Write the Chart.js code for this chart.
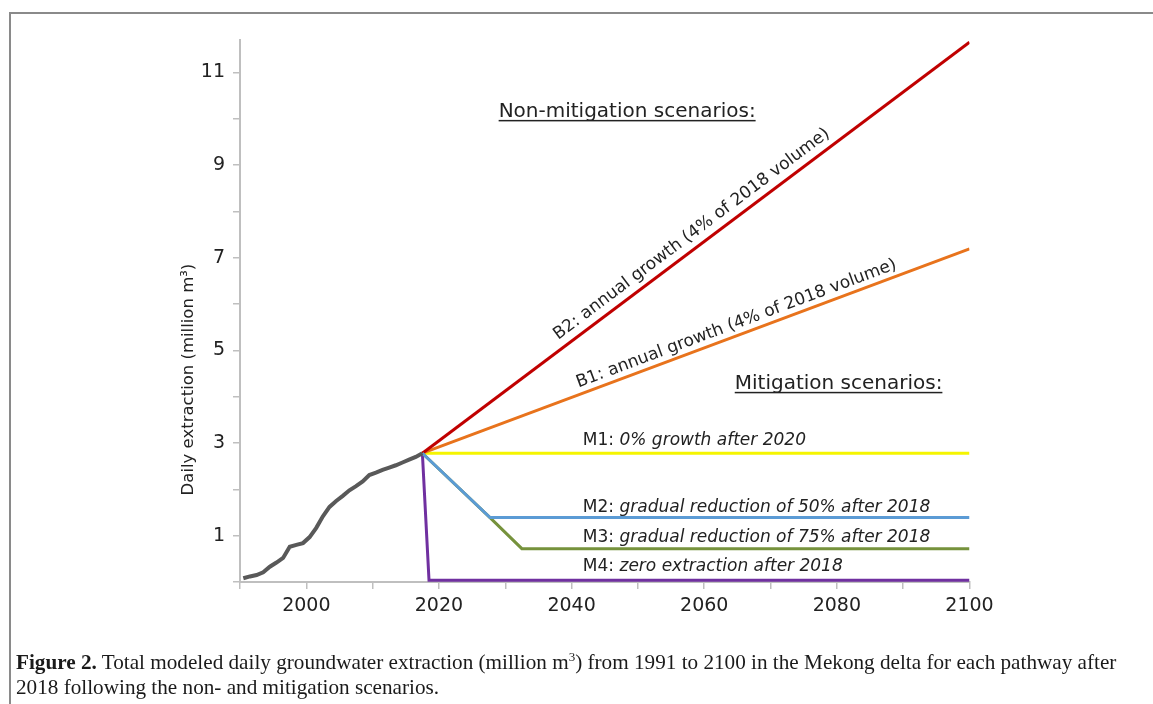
<!DOCTYPE html>
<html>
<head>
<meta charset="utf-8">
<script src="https://cdn.jsdelivr.net/npm/chart.js@4.4.0/dist/chart.umd.min.js"></script>
<style>
  html, body { margin: 0; padding: 0; background: #fff; }
  body { width: 1153px; height: 704px; position: relative; overflow: hidden; }
  #frame { position: absolute; left: 9px; top: 12px; width: 1300px; height: 900px;
           border-left: 2px solid #8a8a8a; border-top: 2px solid #8a8a8a; }
  #chart { position: absolute; left: 0; top: 0; }
  #caption { position: absolute; left: 16px; top: 650px; font-family: "Liberation Serif", serif;
             font-size: 21.2px; line-height: 25px; color: #1a1a1a; white-space: nowrap; }
  #caption sup { font-size: 13px; line-height: 0; }
</style>
</head>
<body>
<div id="frame"></div>
<canvas id="chart" width="1153" height="704"></canvas>
<div id="caption"><b>Figure 2.</b> Total modeled daily groundwater extraction (million m<sup>3</sup>) from 1991 to 2100 in the Mekong delta for each pathway after<br>2018 following the non- and mitigation scenarios.</div>

<script>
// historical extraction (points sit half a year left of the year ticks)
const histYears = [1990.5, 1991.5, 1992.5, 1993.5, 1994.5, 1995.5, 1996.5, 1997.5, 1998.5, 1999.5,
  2000.5, 2001.5, 2002.5, 2003.5, 2004.5, 2005.5, 2006.5, 2007.5, 2008.5, 2009.5,
  2010.5, 2011.5, 2012.5, 2013.5, 2014.5, 2015.5, 2016.5, 2017.5];
const histValues = [0.08, 0.12, 0.15, 0.21, 0.33, 0.42, 0.52, 0.76, 0.80, 0.84,
  0.97, 1.17, 1.42, 1.62, 1.75, 1.86, 1.98, 2.07, 2.17, 2.31,
  2.36, 2.42, 2.47, 2.52, 2.58, 2.64, 2.70, 2.78];

// scenarios after 2018
const b2Years = [2017.5, 2100];
const b2Values = [2.78, 11.65];
const b1Years = [2017.5, 2100];
const b1Values = [2.78, 7.19];
const m1Years = [2017.5, 2100];
const m1Values = [2.78, 2.78];
const m2Years = [2017.5, 2027.7, 2100];
const m2Values = [2.78, 1.39, 1.39];
const m3Years = [2017.5, 2027.7, 2032.5, 2100];
const m3Values = [2.78, 1.39, 0.72, 0.72];
const m4Years = [2017.5, 2018.5, 2100];
const m4Values = [2.78, 0.04, 0.04];

const xTickLabels = [2000, 2020, 2040, 2060, 2080, 2100];
const yTickLabels = [1, 3, 5, 7, 9, 11];

const FONT = '"DejaVu Sans", Verdana, sans-serif';
const TEXT = '#222222';
const AXIS = '#bfbfbf';

function pts(xs, ys) {
  return xs.map((x, i) => ({ x: x, y: ys[i] }));
}

function series(label, xs, ys, color, width) {
  return {
    label: label,
    data: pts(xs, ys),
    borderColor: color,
    backgroundColor: color,
    borderWidth: width || 3,
    pointRadius: 0,
    tension: 0,
    fill: false
  };
}

// text along a scenario line
function lineLabel(ctx, x, y, xs, ys, startYear, offset, text) {
  const x0 = x.getPixelForValue(xs[0]), y0 = y.getPixelForValue(ys[0]);
  const x1 = x.getPixelForValue(xs[xs.length - 1]), y1 = y.getPixelForValue(ys[ys.length - 1]);
  const angle = Math.atan2(y1 - y0, x1 - x0);
  const t = (startYear - xs[0]) / (xs[xs.length - 1] - xs[0]);
  const v = ys[0] + t * (ys[ys.length - 1] - ys[0]);
  ctx.save();
  ctx.translate(x.getPixelForValue(startYear), y.getPixelForValue(v));
  ctx.rotate(angle);
  ctx.textAlign = 'left';
  ctx.textBaseline = 'alphabetic';
  ctx.fillText(text, 0, -offset);
  ctx.restore();
}

function heading(ctx, px, py, text) {
  ctx.fillText(text, px, py);
  const w = ctx.measureText(text).width;
  ctx.fillRect(px, py + 3, w, 1.5);
}

function mixedLabel(ctx, px, py, head, rest) {
  ctx.font = '17px ' + FONT;
  ctx.fillText(head, px, py);
  const w = ctx.measureText(head).width;
  ctx.font = 'italic 17px ' + FONT;
  ctx.fillText(rest, px + w, py);
}

const annotate = {
  id: 'annotate',
  afterDatasetsDraw(chart) {
    const { ctx, scales: { x, y } } = chart;
    ctx.save();
    ctx.fillStyle = TEXT;
    ctx.textAlign = 'left';
    ctx.textBaseline = 'alphabetic';

    ctx.font = '20px ' + FONT;
    heading(ctx, x.getPixelForValue(2029.0), y.getPixelForValue(10.04), 'Non-mitigation scenarios:');
    heading(ctx, x.getPixelForValue(2064.6), y.getPixelForValue(4.17), 'Mitigation scenarios:');

    ctx.font = '17px ' + FONT;
    lineLabel(ctx, x, y, b2Years, b2Values, 2038.8, 9, 'B2: annual growth (4% of 2018 volume)');
    lineLabel(ctx, x, y, b1Years, b1Values, 2041.4, 7, 'B1: annual growth (4% of 2018 volume)');

    const mx = x.getPixelForValue(2041.7);
    mixedLabel(ctx, mx, y.getPixelForValue(2.96), 'M1: ', '0% growth after 2020');
    mixedLabel(ctx, mx, y.getPixelForValue(1.52), 'M2: ', 'gradual reduction of 50% after 2018');
    mixedLabel(ctx, mx, y.getPixelForValue(0.86), 'M3: ', 'gradual reduction of 75% after 2018');
    mixedLabel(ctx, mx, y.getPixelForValue(0.23), 'M4: ', 'zero extraction after 2018');

    // y axis title
    ctx.font = '16.5px ' + FONT;
    ctx.translate(189, y.getPixelForValue(4.37));
    ctx.rotate(-Math.PI / 2);
    ctx.textAlign = 'center';
    ctx.textBaseline = 'middle';
    ctx.fillText('Daily extraction (million m³)', 0, 0);
    ctx.restore();
  }
};

const chart = new Chart(document.getElementById('chart').getContext('2d'), {
  type: 'line',
  data: {
    datasets: [
      series('Historical', histYears, histValues, '#595959', 4),
      series('M2', m2Years, m2Values, '#5b9bd5'),
      series('M3', m3Years, m3Values, '#76923c'),
      series('M4', m4Years, m4Values, '#7030a0'),
      series('B2', b2Years, b2Values, '#c00000'),
      series('B1', b1Years, b1Values, '#e8731c'),
      series('M1', m1Years, m1Values, '#f5f500')
    ]
  },
  options: {
    responsive: false,
    animation: false,
    layout: { padding: { left: 0, top: 40, right: 183.5, bottom: 82 } },
    plugins: { legend: { display: false }, tooltip: { enabled: false } },
    scales: {
      x: {
        type: 'linear',
        min: 1990,
        max: 2100,
        afterFit: s => { s.height = 40; },
        border: { color: AXIS, width: 2 },
        grid: { drawOnChartArea: false, color: AXIS, lineWidth: 1.5, tickLength: 7 },
        ticks: {
          stepSize: 10,
          autoSkip: false,
          maxRotation: 0,
          padding: 6,
          color: TEXT,
          font: { family: FONT, size: 19 },
          callback: v => xTickLabels.includes(v) ? String(v) : ''
        }
      },
      y: {
        min: 0,
        max: 11.7,
        afterFit: s => { s.width = 240; },
        border: { color: AXIS, width: 2 },
        grid: { drawOnChartArea: false, color: AXIS, lineWidth: 1.5, tickLength: 7 },
        ticks: {
          stepSize: 1,
          includeBounds: false,
          padding: 8,
          color: TEXT,
          font: { family: FONT, size: 19 },
          callback: v => yTickLabels.includes(v) ? String(v) : ''
        }
      }
    }
  },
  plugins: [annotate]
});
</script>
</body>
</html>
